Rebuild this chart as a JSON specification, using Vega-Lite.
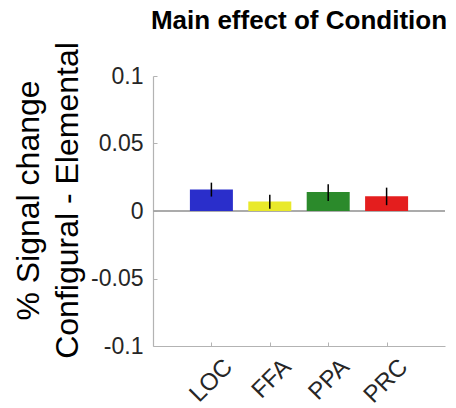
{
  "$schema": "https://vega.github.io/schema/vega-lite/v6.json",
  "width": 292,
  "height": 270,
  "autosize": "none",
  "padding": {"left": 153, "top": 76, "right": 11, "bottom": 62},
  "background": "white",
  "title": {
    "text": "Main effect of Condition",
    "font": "Liberation Sans",
    "fontSize": 26,
    "fontWeight": "bold",
    "color": "black",
    "anchor": "middle",
    "frame": "group",
    "baseline": "alphabetic",
    "offset": -13
  },
  "config": {
    "view": {"stroke": null},
    "axis": {
      "labelFont": "Liberation Sans",
      "titleFont": "Liberation Sans",
      "domainColor": "#b3b3b3",
      "tickColor": "#b3b3b3",
      "labelColor": "#262626",
      "grid": false
    }
  },
  "data": {
    "values": [
      {"region": "LOC", "value": 0.016, "lo": 0.0107, "hi": 0.021},
      {"region": "FFA", "value": 0.007, "lo": 0.0017, "hi": 0.0121},
      {"region": "PPA", "value": 0.014, "lo": 0.0074, "hi": 0.0199},
      {"region": "PRC", "value": 0.011, "lo": 0.0043, "hi": 0.0173}
    ]
  },
  "layer": [
    {
      "mark": {"type": "rule", "color": "#a6a6a6", "strokeWidth": 1.2},
      "encoding": {"y": {"datum": 0, "type": "quantitative", "scale": {"domain": [-0.1, 0.1], "nice": false}}}
    },
    {
      "mark": {"type": "bar", "width": 43},
      "encoding": {
        "x": {
          "field": "region",
          "type": "nominal",
          "sort": null,
          "scale": {"type": "point", "padding": 1.2},
          "axis": {
            "title": null,
            "labelAngle": -45,
            "labelAlign": "right",
            "labelBaseline": "middle",
            "labelFontSize": 24,
            "labelPadding": 21,
            "labelOffset": 17,
            "tickSize": -4,
            "domainWidth": 1.2
          }
        },
        "y": {
          "field": "value",
          "type": "quantitative",
          "scale": {"domain": [-0.1, 0.1], "nice": false, "zero": false},
          "axis": {
            "values": [-0.1, -0.05, 0, 0.05, 0.1],
            "labelExpr": "datum.value + ''",
            "labelFontSize": 23,
            "labelPadding": 14,
            "tickSize": -4,
            "domainWidth": 1.2,
            "title": ["% Signal change", "Configural - Elemental"],
            "titleFontSize": 32,
            "titleFontWeight": "normal",
            "titleColor": "black",
            "titleLineHeight": 39,
            "titleBaseline": "alphabetic",
            "titleAnchor": "middle",
            "titleX": -115,
            "titleY": 124
          }
        },
        "color": {
          "field": "region",
          "type": "nominal",
          "scale": {"domain": ["LOC", "FFA", "PPA", "PRC"], "range": ["#2a2ecb", "#e9e92a", "#2b8a2b", "#e41e1e"]},
          "legend": null
        }
      }
    },
    {
      "mark": {"type": "rule", "color": "black", "strokeWidth": 1.5},
      "encoding": {
        "x": {"field": "region", "type": "nominal", "sort": null},
        "y": {"field": "lo", "type": "quantitative"},
        "y2": {"field": "hi"}
      }
    }
  ]
}
